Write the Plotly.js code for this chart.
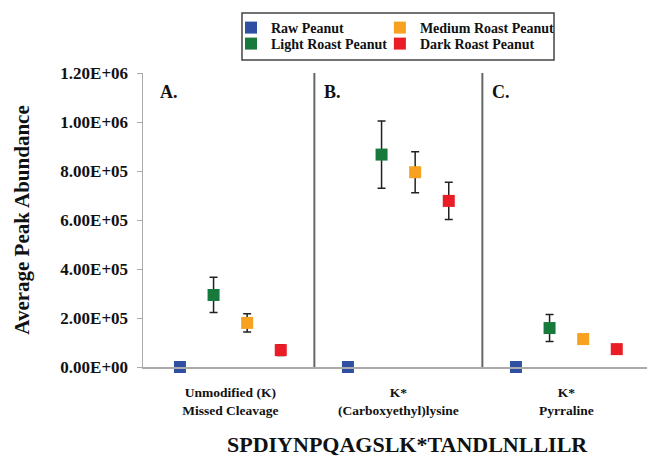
<!DOCTYPE html>
<html>
<head>
<meta charset="utf-8">
<script src="https://cdn.plot.ly/plotly-3.0.1.min.js"></script>
<style>html,body{margin:0;padding:0;background:#fff;}#chart{width:647px;height:457px;}</style>
</head>
<body>
<div id="chart"></div>
<script>
// ---- data ----
var categories = ["Unmodified (K)<br>Missed Cleavage", "K*<br>(Carboxyethyl)lysine", "K*<br>Pyrraline"];
var panelLabels = ["A.", "B.", "C."];
var seriesNames = ["Raw Peanut", "Light Roast Peanut", "Medium Roast Peanut", "Dark Roast Peanut"];
var seriesColors = ["#2f4fa3", "#17793c", "#f6a11f", "#ea1c26"];
var rawValues = [0, 0, 0];
var rawErrors = [0, 0, 0];
var lightValues = [2.94e5, 8.67e5, 1.59e5];
var lightErrors = [0.72e5, 1.37e5, 0.55e5];
var mediumValues = [1.80e5, 7.95e5, 1.14e5];
var mediumErrors = [0.37e5, 0.84e5, 0];
var darkValues = [0.69e5, 6.78e5, 0.73e5];
var darkErrors = [0.22e5, 0.76e5, 0];
var yTickVals = [0, 2e5, 4e5, 6e5, 8e5, 1e6, 1.2e6];
var yTickText = ["0.00E+00", "2.00E+05", "4.00E+05", "6.00E+05", "8.00E+05", "1.00E+06", "1.20E+06"];
var peptide = "SPDIYNPQAGSLK*TANDLNLLILR";

var allValues = [rawValues, lightValues, mediumValues, darkValues];
var allErrors = [rawErrors, lightErrors, mediumErrors, darkErrors];
var legendIds = ["legend", "legend2", "legend3", "legend4"];

var serif = "Liberation Serif, Times New Roman, serif";
var panelWidth = 5;

var traces = seriesNames.map(function (name, s) {
  return {
    type: "scatter",
    mode: "markers",
    name: name,
    legend: legendIds[s],
    x: categories.map(function (c, p) { return p * panelWidth + s + 1; }),
    y: allValues[s],
    cliponaxis: false,
    marker: { symbol: "square", size: 12, color: seriesColors[s], line: { width: 0 } },
    error_y: { type: "data", array: allErrors[s], visible: true, color: "#222", thickness: 1.5, width: 4 }
  };
});

var shapes = [1, 2].map(function (k) {
  return { type: "line", xref: "x", yref: "y", x0: k * panelWidth, x1: k * panelWidth,
           y0: -0.01e6, y1: 1.22e6, line: { color: "#666", width: 2 } };
});
// legend frame
shapes.push({ type: "rect", xref: "paper", yref: "paper", x0: 0.1964, x1: 0.8155, y0: 1.0442, y1: 1.2041,
              line: { color: "#444", width: 1.5 }, fillcolor: "rgba(0,0,0,0)" });

var annotations = panelLabels.map(function (t, p) {
  return { text: t, xref: "x", yref: "y", x: p * panelWidth + 0.34 - (p > 0 ? 0.1 : 0), y: 1.122e6,
           xanchor: "left", yanchor: "middle", showarrow: false,
           font: { family: serif, size: 18, color: "#111", weight: "bold" } };
});
annotations.push({ text: peptide, xref: "paper", yref: "paper", x: 0.524, y: -0.262,
  xanchor: "center", yanchor: "middle", showarrow: false,
  font: { family: serif, size: 22, color: "#111", weight: "bold" } });

var legendFont = { family: serif, size: 14, color: "#111", weight: "bold" };
function legendBox(xp, yp) {
  return { orientation: "v", x: xp, y: yp, xanchor: "left", yanchor: "top",
           borderwidth: 0, bgcolor: "rgba(0,0,0,0)", itemwidth: 30, font: legendFont };
}
var layout = {
  width: 647, height: 457,
  margin: { l: 143, r: 0, t: 73, b: 90 },
  paper_bgcolor: "#fff", plot_bgcolor: "#fff",
  showlegend: true,
  legend: legendBox(0.1746, 1.2075),
  legend2: legendBox(0.1746, 1.1531),
  legend3: legendBox(0.470, 1.2075),
  legend4: legendBox(0.470, 1.1531),
  xaxis: {
    range: [-0.1, 14.9], showgrid: false, zeroline: false,
    showline: true, linecolor: "#aaa", linewidth: 2,
    tickmode: "array", tickvals: categories.map(function (c, p) { return p * panelWidth + 2.5; }),
    ticktext: categories, ticks: "", ticklabelstandoff: 12,
    tickfont: { family: serif, size: 13.5, color: "#111", weight: "bold" }
  },
  yaxis: {
    range: [0, 1.2e6], showgrid: false, zeroline: false,
    showline: true, linecolor: "#aaa", linewidth: 1.5,
    tickmode: "array", tickvals: yTickVals, ticktext: yTickText,
    ticks: "outside", ticklen: 5, tickcolor: "#aaa", tickwidth: 1, ticklabelstandoff: 5,
    tickfont: { family: serif, size: 17, color: "#111", weight: "bold" },
    title: { text: "Average Peak Abundance", standoff: 25,
             font: { family: serif, size: 21, color: "#111", weight: "bold" } }
  },
  shapes: shapes,
  annotations: annotations
};

Plotly.newPlot("chart", traces, layout, { displayModeBar: false, staticPlot: true });
</script>
</body>
</html>
